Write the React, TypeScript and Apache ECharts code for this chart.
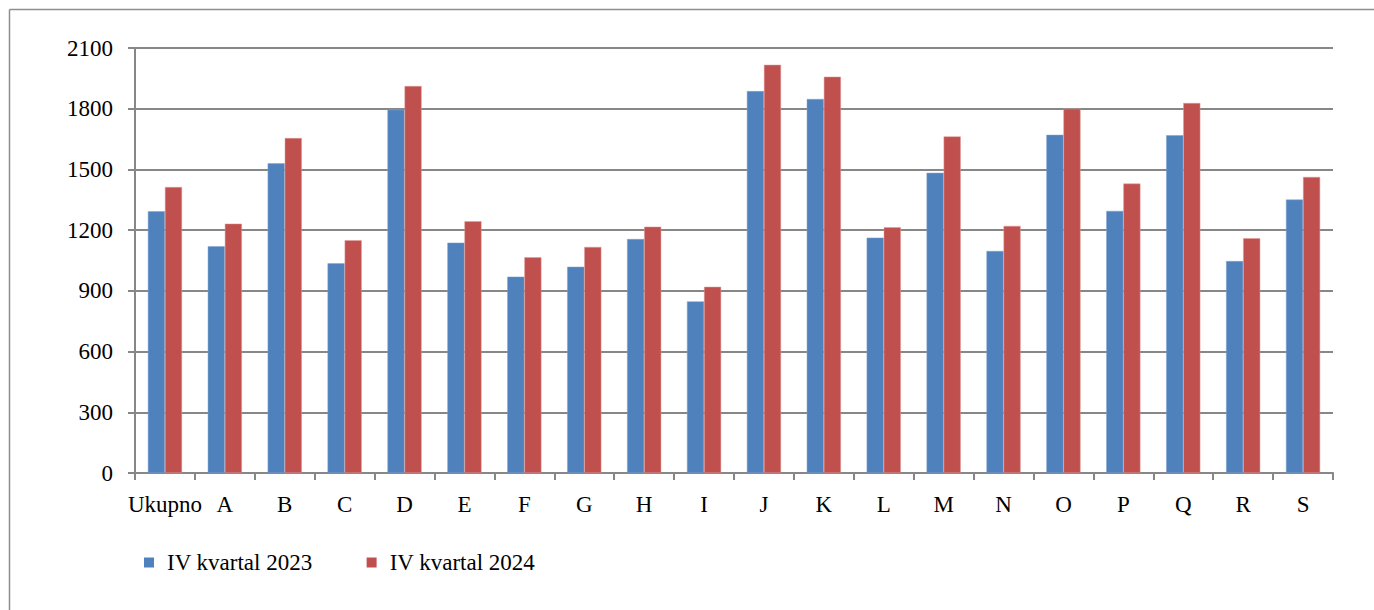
import React, { useEffect, useRef } from "react";
import * as echarts from "echarts";

const categories = ["Ukupno", "A", "B", "C", "D", "E", "F", "G", "H", "I", "J", "K", "L", "M", "N", "O", "P", "Q", "R", "S"];
const series2023 = [1293, 1120, 1530, 1036, 1795, 1138, 970, 1019, 1156, 848, 1887, 1848, 1163, 1483, 1097, 1671, 1295, 1669, 1047, 1351];
const series2024 = [1413, 1232, 1655, 1150, 1912, 1244, 1066, 1117, 1217, 920, 2017, 1958, 1214, 1663, 1221, 1800, 1430, 1828, 1160, 1463];
const seriesNames = ["IV kvartal 2023", "IV kvartal 2024"];
const yMin = 0;
const yMax = 2100;
const yInterval = 300;

const FONT = "Liberation Serif";
const GRAY = "#878787";

export default function App() {
  const ref = useRef<HTMLDivElement>(null);
  useEffect(() => {
    if (!ref.current) return;
    const chart = echarts.init(ref.current, undefined, { renderer: "svg" });
    chart.setOption({
      animation: false,
      backgroundColor: "#ffffff",
      textStyle: { fontFamily: FONT },
      grid: { left: 135, right: 41, top: 48, bottom: 137, containLabel: false },
      legend: {
        left: 139,
        top: 546,
        icon: "rect",
        itemWidth: 10,
        itemHeight: 10,
        itemGap: 54,
        data: seriesNames,
        itemStyle: { borderWidth: 0 },
        textStyle: { fontFamily: FONT, fontSize: 23, color: "#000", padding: [0, 0, 0, 8] },
      },
      graphic: [
        { type: "line", shape: { x1: 9.5, y1: 9.5, x2: 1374, y2: 9.5 }, style: { stroke: "#8e8e8e", lineWidth: 1.5 } },
        { type: "line", shape: { x1: 9.5, y1: 9.5, x2: 9.5, y2: 610 }, style: { stroke: "#8e8e8e", lineWidth: 1.5 } },
      ],
      xAxis: {
        type: "category",
        data: categories,
        axisLine: { show: true, lineStyle: { color: GRAY, width: 2 } },
        axisTick: { show: true, length: 7, lineStyle: { color: GRAY, width: 2 } },
        axisLabel: { fontFamily: FONT, fontSize: 23, color: "#000", margin: 20, interval: 0 },
        splitLine: { show: false },
      },
      yAxis: {
        type: "value",
        min: yMin,
        max: yMax,
        interval: yInterval,
        axisLine: { show: true, lineStyle: { color: GRAY, width: 2 } },
        axisTick: { show: true, length: 7, lineStyle: { color: GRAY, width: 2 } },
        axisLabel: {
          fontFamily: FONT,
          fontSize: 23,
          color: "#000",
          margin: 22,
          formatter: (v: number) => String(v),
        },
        splitLine: { show: true, lineStyle: { color: GRAY, width: 2 } },
      },
      series: [
        {
          name: seriesNames[0],
          type: "bar",
          data: series2023,
          barGap: "0%",
          barCategoryGap: "43%",
          itemStyle: { color: "#4F81BD", borderColor: "#7FA3D0", borderWidth: 0.5 },
        },
        {
          name: seriesNames[1],
          type: "bar",
          data: series2024,
          barGap: "0%",
          barCategoryGap: "43%",
          itemStyle: { color: "#C0504D", borderColor: "#E09A98", borderWidth: 0.5 },
        },
      ],
    });
    return () => chart.dispose();
  }, []);
  return (
    <div
      ref={ref}
      style={{ position: "fixed", left: 0, top: 0, width: 1374, height: 610, background: "#fff" }}
    />
  );
}
